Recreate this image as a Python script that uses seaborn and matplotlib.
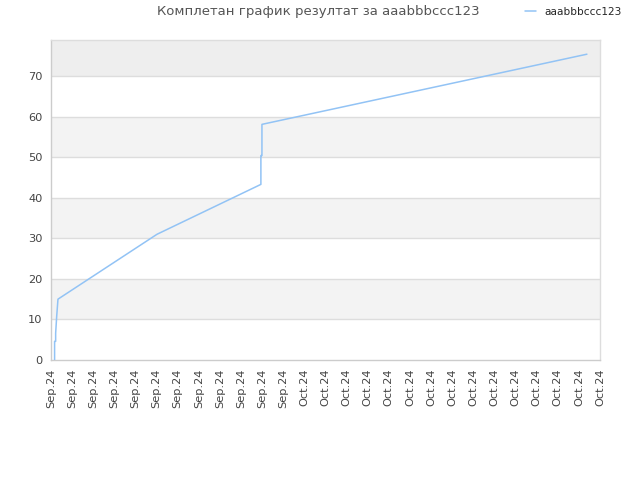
import pandas as pd
import matplotlib
matplotlib.use('Agg')
import matplotlib.pyplot as plt
import seaborn as sns

# progress over time (x in tick steps, y = score)
steps = [0.17, 0.17, 0.22, 0.22, 0.27, 0.33, 5.02, 9.94, 9.94, 9.99, 9.99, 25.38]
score = [0.0, 4.6, 4.6, 6.6, 10.8, 15.0, 31.0, 43.3, 50.4, 50.4, 58.1, 75.4]
tick_labels = ['Sep.24'] * 12 + ['Oct.24'] * 15
series_name = 'aaabbbccc123'
title = 'Комплетан график резултат за aaabbbccc123'

df = pd.DataFrame({'x': steps, 'y': score, 'who': series_name})

sns.set_style('white')
plt.rcParams['font.family'] = ['DejaVu Sans']

fig = plt.figure(figsize=(6.4, 4.8), dpi=100)
ax = fig.add_axes([51 / 640, 120 / 480, 549 / 640, 320 / 480])

ymax = 78.9
# alternating bands
for lo in range(0, 80, 10):
    hi = min(lo + 10, ymax)
    if lo >= 70:
        col = '#eeeeee'
    elif (lo // 10) % 2 == 1:
        col = '#f3f3f3'
    else:
        col = 'white'
    ax.axhspan(lo, hi, color=col, zorder=0, lw=0)
for v in range(10, 80, 10):
    ax.axhline(v, color='#dddddd', lw=1, zorder=1)

sns.lineplot(data=df, x='x', y='y', hue='who', palette=['#92c3f5'],
             sort=False, estimator=None, lw=1.1, ax=ax, zorder=3)

ax.set_xlim(0, 26)
ax.set_ylim(0, ymax)
ax.set_xticks(range(len(tick_labels)))
ax.set_xticklabels(tick_labels, rotation=90, fontsize=8.2, color='#444444')
ax.set_yticks(range(0, 80, 10))
ax.tick_params(axis='y', labelsize=8.2, labelcolor='#444444', length=0, pad=6)
ax.tick_params(axis='x', length=0, pad=6)
ax.set_xlabel('')
ax.set_ylabel('')
for s in ax.spines.values():
    s.set_color('#dddddd')
    s.set_linewidth(1)
ax.spines['bottom'].set_color('#cccccc')
ax.spines['left'].set_color('#cccccc')

fig.text(318 / 640, 1 - 12 / 480, title, ha='center', va='center', fontsize=9.5, color='#555555')
leg = ax.legend(loc='center left', bbox_to_anchor=(474 / 549, 1 + 28 / 320), frameon=False,
                fontsize=7.6, handlelength=1.0, handletextpad=0.8, borderpad=0, borderaxespad=0)
leg.set_title(None)

fig.savefig('out.png', dpi=100)
